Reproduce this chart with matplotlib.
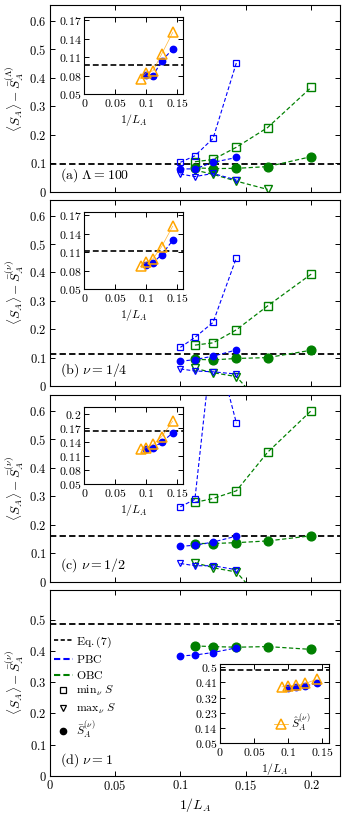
import matplotlib
matplotlib.use("Agg")
import matplotlib.pyplot as plt
from matplotlib.lines import Line2D
from matplotlib.ticker import FuncFormatter, MultipleLocator
import numpy as np

plt.rcParams['mathtext.fontset'] = 'cm'
plt.rcParams['font.family'] = 'serif'
plt.rcParams['font.serif'] = ['cmr10', 'DejaVu Serif']
plt.rcParams['axes.formatter.use_mathtext'] = True

# ---------------- data ----------------
x_pbc = [1/10, 1/9, 1/8, 1/7]
x_obc = [1/9, 1/8, 1/7, 1/6, 1/5]
x_obc_max = [1/9, 1/8, 1/7, 1/6]
x_hat = [1/11, 1/10, 1/9, 1/8, 1/7]

# panel (a) Lambda = 100
a_pbc_min = [0.103, 0.126, 0.187, 0.453]
a_pbc_mean = [0.080, 0.080, 0.103, 0.120]
a_pbc_max = [0.062, 0.053, 0.064, 0.041]
a_obc_min = [0.105, 0.113, 0.156, 0.225, 0.366]
a_obc_mean = [0.084, 0.081, 0.082, 0.088, 0.123]
a_obc_max = [0.076, 0.061, 0.037, 0.008]
a_hat = [0.075, 0.085, 0.088, 0.115, 0.150]
a_inset_mean = [0.082, 0.080, 0.104, 0.123]
a_eq7 = 0.098

# panel (b) nu = 1/4
b_pbc_min = [0.136, 0.171, 0.224, 0.452]
b_pbc_mean = [0.087, 0.093, 0.105, 0.127]
b_pbc_max = [0.060, 0.053, 0.050, 0.042]
b_obc_min = [0.144, 0.152, 0.198, 0.282, 0.394]
b_obc_mean = [0.094, 0.092, 0.097, 0.100, 0.126]
b_obc_max = [0.062, 0.047, 0.033, -0.090]
b_hat = [0.087, 0.094, 0.0995, 0.119, 0.152]
b_inset_mean = [0.090, 0.093, 0.106, 0.129]
b_eq7 = 0.112

# panel (c) nu = 1/2
c_pbc_min = [0.263, 0.289, 0.870, 0.556]
c_pbc_mean = [0.124, 0.128, 0.139, 0.160]
c_pbc_max = [0.064, 0.056, 0.056, 0.042]
c_obc_min = [0.278, 0.292, 0.319, 0.454, 0.600]
c_obc_mean = [0.134, 0.134, 0.137, 0.143, 0.161]
c_obc_max = [0.067, 0.049, 0.034, -0.090]
c_hat = [0.124, 0.1275, 0.1345, 0.151, 0.184]
c_inset_mean = [0.124, 0.128, 0.139, 0.159]
c_eq7 = 0.162

# panel (d) nu = 1
d_pbc_mean = [0.384, 0.387, 0.395, 0.410]
d_obc_mean = [0.416, 0.414, 0.412, 0.414, 0.405]
d_hat = [0.384, 0.388, 0.394, 0.404, 0.430]
d_inset_mean = [0.379, 0.384, 0.390, 0.404]
d_eq7 = 0.486

BLUE = '#0000ff'
GREEN = '#008000'
ORANGE = '#ffa500'

fmt = FuncFormatter(lambda v, p: r'$%g$' % round(v, 4))

W, H = 346, 817
fig = plt.figure(figsize=(W/100, H/100), dpi=100)

def frac(l, t, r, b):
    return [l/W, 1-b/H, (r-l)/W, (b-t)/H]

main_boxes = [(49.5, 5, 340, 191.7), (49.5, 200, 340, 386),
              (49.5, 395, 340, 581.7), (49.5, 590, 340, 776)]
inset_boxes = [(84.3, 16.7, 183.3, 94.3), (84.3, 211.7, 183.3, 289.3),
               (84.3, 406.7, 183.3, 484.3), (220, 664, 329, 743)]

def style(ax, fs=8.5):
    ax.tick_params(direction='in', top=True, right=True, length=3.5,
                   width=0.7, labelsize=fs, pad=2)
    for s in ax.spines.values():
        s.set_linewidth(0.8)
    ax.xaxis.set_major_formatter(fmt)
    ax.yaxis.set_major_formatter(fmt)

lwl = 0.8
ds = (0, (3.5, 2))

def main_panel(ax, mins, means, maxs, eq7, label, ylab, ylim):
    pmin, omin = mins
    pmean, omean = means
    pmax, omax = maxs
    ax.axhline(eq7, color='k', ls=(0, (3.5, 1.8)), lw=1.3, zorder=1)
    if pmin is not None:
        ax.plot(x_pbc, pmin, ls=ds, color=BLUE, lw=lwl, marker='s', ms=4.2,
                mfc='none', mec=BLUE, mew=0.9, zorder=3)
        ax.plot(x_obc, omin, ls=ds, color=GREEN, lw=lwl*1.1, marker='s', ms=5.6,
                mfc='none', mec=GREEN, mew=1.0, zorder=2)
        ax.plot(x_pbc, pmax, ls=ds, color=BLUE, lw=lwl, marker='v', ms=4.2,
                mfc='none', mec=BLUE, mew=0.9, zorder=3)
        ax.plot(x_obc_max, omax, ls=ds, color=GREEN, lw=lwl*1.1, marker='v', ms=5.6,
                mfc='none', mec=GREEN, mew=1.0, zorder=2)
    ax.plot(x_pbc, pmean, ls=ds, color=BLUE, lw=lwl, marker='o', ms=4.6,
            mfc=BLUE, mec=BLUE, zorder=3)
    ax.plot(x_obc, omean, ls=ds, color=GREEN, lw=lwl*1.1, marker='o', ms=6.3,
            mfc=GREEN, mec=GREEN, zorder=2)
    ax.set_xlim(0, 0.222)
    ax.set_ylim(*ylim)
    ax.xaxis.set_major_locator(MultipleLocator(0.05))
    ax.yaxis.set_major_locator(MultipleLocator(0.1))
    style(ax, 9)
    ax.set_ylabel(ylab, fontsize=9.5)
    ax.yaxis.set_label_coords(-0.082, 0.5)
    ax.text(0.035, 0.04, label, transform=ax.transAxes, fontsize=10,
            ha='left', va='bottom')

def inset_panel(ax, mean, hat, eq7, ylim, ystep):
    ax.axhline(eq7, color='k', ls=(0, (3.5, 1.8)), lw=1.2, zorder=1)
    ax.plot(x_pbc, mean, ls=ds, color=BLUE, lw=lwl, marker='o', ms=4.6,
            mfc=BLUE, mec=BLUE, zorder=2)
    ax.plot(x_hat, hat, ls='-', color=ORANGE, lw=0.5, alpha=0.8, zorder=3)
    ax.plot(x_hat, hat, ls='none', marker='^', ms=6.5, mfc='none',
            mec=ORANGE, mew=1.1, zorder=4)
    ax.set_xlim(0, 0.16)
    ax.set_ylim(*ylim)
    ax.set_xticks([0, 0.05, 0.1, 0.15])
    ax.set_yticks(np.arange(0.05, ylim[1] + 1e-9, ystep))
    style(ax, 8.5)
    ax.set_xlabel(r'$1/L_A$', fontsize=8.5, labelpad=2)

ylab_L = r'$\langle S_A\rangle - \bar{S}_A^{(\Lambda)}$'
ylab_n = r'$\langle S_A\rangle - \bar{S}_A^{(\nu)}$'

axs = [fig.add_axes(frac(*b)) for b in main_boxes]
main_panel(axs[0], (a_pbc_min, a_obc_min), (a_pbc_mean, a_obc_mean),
           (a_pbc_max, a_obc_max), a_eq7, r'$\mathrm{(a)}\ \Lambda = 100$',
           ylab_L, (0, 0.655))
main_panel(axs[1], (b_pbc_min, b_obc_min), (b_pbc_mean, b_obc_mean),
           (b_pbc_max, b_obc_max), b_eq7, r'$\mathrm{(b)}\ \nu = 1/4$',
           ylab_n, (0, 0.655))
main_panel(axs[2], (c_pbc_min, c_obc_min), (c_pbc_mean, c_obc_mean),
           (c_pbc_max, c_obc_max), c_eq7, r'$\mathrm{(c)}\ \nu = 1/2$',
           ylab_n, (0, 0.655))
main_panel(axs[3], (None, None), (d_pbc_mean, d_obc_mean),
           (None, None), d_eq7, r'$\mathrm{(d)}\ \nu = 1$',
           ylab_n, (0, 0.595))
for ax in axs[:3]:
    ax.tick_params(labelbottom=False)
axs[3].set_xlabel(r'$1/L_A$', fontsize=10, labelpad=2)

handles = [
    Line2D([], [], color='k', ls=(0, (2.5, 1.5)), lw=1.2),
    Line2D([], [], color=BLUE, ls=(0, (3, 1.5)), lw=1.5),
    Line2D([], [], color=GREEN, ls=(0, (3, 1.5)), lw=1.5),
    Line2D([], [], color='k', ls='none', marker='s', ms=4, mfc='none', mew=0.9),
    Line2D([], [], color='k', ls='none', marker='v', ms=4, mfc='none', mew=0.9),
    Line2D([], [], color='k', ls='none', marker='o', ms=4.5),
]
labels = [r'$\mathrm{Eq.(7)}$', r'$\mathrm{PBC}$', r'$\mathrm{OBC}$',
          r'$\mathrm{min}_{\nu}\ S$', r'$\mathrm{max}_{\nu}\ S$',
          r'$\bar{S}_A^{(\nu)}$']
axs[3].legend(handles, labels, loc='upper left', bbox_to_anchor=(-0.01, 0.8),
              frameon=False, fontsize=8.5, handlelength=1.6, handletextpad=0.3,
              labelspacing=0.3, borderaxespad=0.2)

ins = [fig.add_axes(frac(*b)) for b in inset_boxes]
inset_panel(ins[0], a_inset_mean, a_hat, a_eq7, (0.05, 0.1755), 0.03)
inset_panel(ins[1], b_inset_mean, b_hat, b_eq7, (0.05, 0.1755), 0.03)
inset_panel(ins[2], c_inset_mean, c_hat, c_eq7, (0.05, 0.2145), 0.03)
inset_panel(ins[3], d_inset_mean, d_hat, d_eq7, (0.05, 0.52), 0.09)
h_hat = Line2D([], [], color=ORANGE, lw=0.5, marker='^', ms=6.5, mfc='none',
               mec=ORANGE, mew=1.1)
ins[3].legend([h_hat], [r'$\hat{S}_A^{(\nu)}$'], loc='lower left',
              bbox_to_anchor=(0.45, 0.06), frameon=False, fontsize=8.5,
              handlelength=1.2, handletextpad=0.3, borderaxespad=0)

fig.savefig('out.png', dpi=100)
